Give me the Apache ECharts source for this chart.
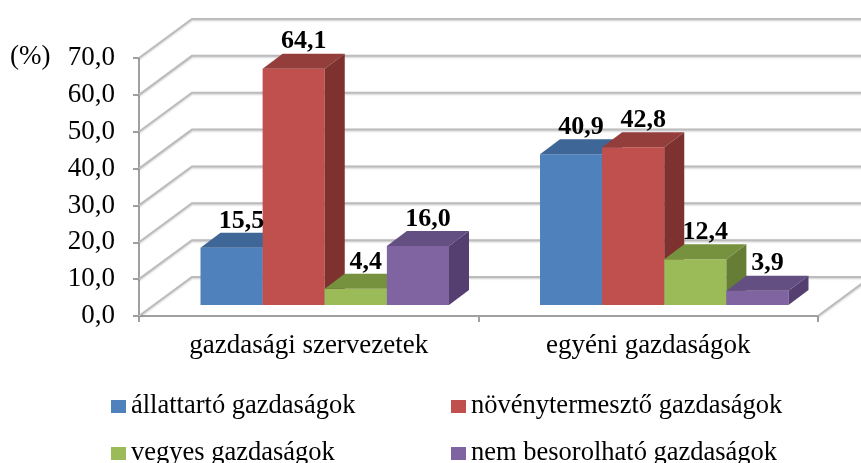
<!DOCTYPE html>
<html>
<head>
<meta charset="utf-8">
<script src="https://cdn.jsdelivr.net/npm/echarts@6/dist/echarts.min.js"></script>
<style>
  html, body { margin: 0; padding: 0; background: #fff; }
  #chart { width: 861px; height: 463px; }
</style>
</head>
<body>
<div id="chart"></div>
<script>
var categories = ['gazdasági szervezetek', 'egyéni gazdaságok'];
var seriesNames = ['állattartó gazdaságok', 'növénytermesztő gazdaságok', 'vegyes gazdaságok', 'nem besorolható gazdaságok'];
var allattarto = [15.5, 40.9];
var novenytermeszto = [64.1, 42.8];
var vegyes = [4.4, 12.4];
var nemBesorolhato = [16.0, 3.9];
var yTicks = [0, 10, 20, 30, 40, 50, 60, 70];

var seriesValues = [allattarto, novenytermeszto, vegyes, nemBesorolhato];
// front, top, side colours of each bar
var faceColors = [
    ['#4f81bd', '#3e6696', '#385d8a'],
    ['#c0504d', '#943e3c', '#7d3230'],
    ['#9bbb59', '#77923f', '#657d35'],
    ['#8064a2', '#644f82', '#553f70']
];

var FONT = '"Liberation Serif", "Times New Roman", serif';
var WALL_DX = 53, WALL_DY = -39;   // back wall offset
var SHIFT_X = 16, SHIFT_Y = -11;   // bar front plane offset
var DEPTH_X = 20, DEPTH_Y = -15;   // bar depth
var BAR_RATIO = 0.183;

function fmt(v) {
    return v.toFixed(1).replace('.', ',');
}

function drawWall(params, api) {
    var v = api.value(1);
    var cs = params.coordSys;
    var y = api.coord([0, v])[1];
    var left = cs.x, right = cs.x + cs.width;
    var lineStyle = {
        stroke: '#bcbcbc', lineWidth: 2, fill: null,
        shadowBlur: 2, shadowColor: 'rgba(0,0,0,0.2)', shadowOffsetY: 1
    };
    var children = [{
        type: 'polyline',
        shape: { points: [[left, y], [left + WALL_DX, y + WALL_DY], [right + WALL_DX, y + WALL_DY]] },
        style: lineStyle
    }];
    if (v === 0) {
        children.push({
            type: 'polyline',
            shape: { points: [[right, y], [right + WALL_DX, y + WALL_DY]] },
            style: lineStyle
        });
    }
    return { type: 'group', children: children };
}

function drawBar(i, params, api) {
    var cat = api.value(0), val = api.value(1);
    var base = api.coord([cat, 0]);
    var top = api.coord([cat, val]);
    var band = api.size([1, 0])[0];
    var bw = band * BAR_RATIO;
    var x0 = base[0] - 2 * bw + i * bw + SHIFT_X;
    var x1 = x0 + bw;
    var yb = base[1] + SHIFT_Y;
    var yt = top[1] + SHIFT_Y;
    var c = faceColors[i];
    return {
        type: 'group',
        children: [
            { type: 'rect', shape: { x: x0, y: yt, width: bw, height: yb - yt }, style: { fill: c[0] } },
            { type: 'polygon', shape: { points: [[x0, yt], [x1, yt], [x1 + DEPTH_X, yt + DEPTH_Y], [x0 + DEPTH_X, yt + DEPTH_Y]] }, style: { fill: c[1] } },
            { type: 'polygon', shape: { points: [[x1, yt], [x1, yb], [x1 + DEPTH_X, yb + DEPTH_Y], [x1 + DEPTH_X, yt + DEPTH_Y]] }, style: { fill: c[2] } },
            {
                type: 'text', z2: 10,
                style: {
                    text: fmt(val), x: (x0 + x1) / 2 + 10, y: yt + DEPTH_Y + 1,
                    align: 'center', verticalAlign: 'bottom',
                    font: 'bold 26px ' + FONT, fill: '#000'
                }
            }
        ]
    };
}

var chart = echarts.init(document.getElementById('chart'));

var series = [{
    type: 'custom',
    name: 'walls',
    silent: true,
    z: 1,
    renderItem: drawWall,
    data: yTicks.map(function (v) { return [0, v]; })
}];
seriesValues.forEach(function (vals, i) {
    series.push({
        type: 'custom',
        name: seriesNames[i],
        z: 2,
        itemStyle: { color: faceColors[i][0] },
        renderItem: function (params, api) { return drawBar(i, params, api); },
        data: vals.map(function (v, c) { return [c, v]; })
    });
});

// legend slots: two columns, two rows
var legendSlots = [[106, 388], [446, 388], [106, 435], [446, 435]];
var legends = seriesNames.map(function (name, i) {
    return {
        left: legendSlots[i][0], top: legendSlots[i][1],
        icon: 'rect', itemWidth: 15, itemHeight: 13,
        data: [name],
        textStyle: { fontFamily: FONT, fontSize: 26.5, color: '#000' }
    };
});

var option = {
    animation: false,
    grid: { left: 139, right: 43, top: 58, bottom: 147 },
    graphic: [{
        type: 'text', left: 10, top: 43,
        style: { text: '(%)', font: '27px ' + FONT, fill: '#000' }
    }],
    legend: legends,
    xAxis: {
        type: 'category',
        data: categories,
        boundaryGap: true,
        axisLine: { lineStyle: { color: '#a0a0a0', width: 2 } },
        axisTick: { show: true, length: 6, lineStyle: { color: '#a0a0a0', width: 2 } },
        axisLabel: { interval: 0, margin: 16, fontFamily: FONT, fontSize: 27, color: '#000' },
        splitLine: { show: false }
    },
    yAxis: {
        type: 'value',
        min: 0, max: 70, interval: 10,
        axisLine: { show: true, lineStyle: { color: '#a0a0a0', width: 2 } },
        axisTick: { show: true, length: 6, lineStyle: { color: '#a0a0a0', width: 2 } },
        axisLabel: { margin: 24, fontFamily: FONT, fontSize: 27, color: '#000', formatter: fmt },
        splitLine: { show: false }
    },
    series: series
};
chart.setOption(option);
</script>
</body>
</html>
